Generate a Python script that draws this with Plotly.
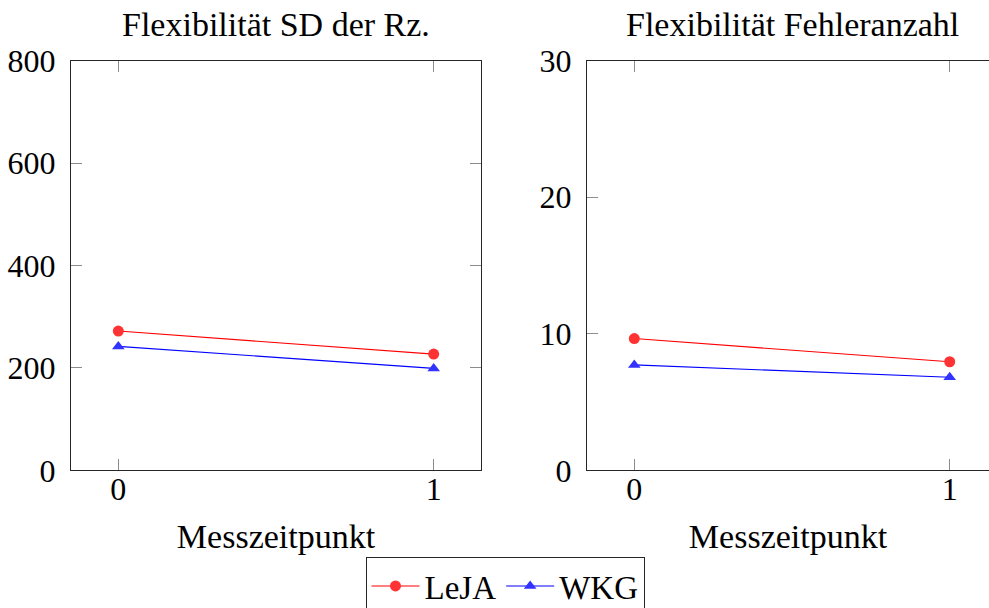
import plotly.graph_objects as go

# Measurement points and group means
zeitpunkte = [0, 1]
sd_leja = [272, 227]
sd_wkg = [242, 199]
fehler_leja = [9.65, 7.95]
fehler_wkg = [7.72, 6.82]

titel = ["Flexibilität SD der Rz.", "Flexibilität Fehleranzahl"]
x_titel = "Messzeitpunkt"
y1_ticks = [0, 200, 400, 600, 800]
y2_ticks = [0, 10, 20, 30]

W, H = 989, 608
FONT = "'Liberation Serif', 'Times New Roman', 'DejaVu Serif', serif"
FS_TICK = 32
FS_TEXT = 34
FS_LEGEND = 33
RED_LINE, RED_MARK = "#ff0000", "#ff3333"
BLUE_LINE, BLUE_MARK = "#0000ff", "#3333ff"
AXIS_COL = "#262626"
TICK_COL = "#8c8c8c"

# pixel layout of the two axes boxes
left_px = (71, 481)
right_px = (587, 997)
top_px, bottom_px = 60.7, 470.3
px_per_unit = (left_px[1] - left_px[0]) / 1.3

fig = go.Figure()

def add_pair(xa, ya, leja, wkg, legend):
    fig.add_trace(go.Scatter(
        x=zeitpunkte, y=leja, name="LeJA", mode="lines+markers",
        xaxis=xa, yaxis=ya, showlegend=legend,
        line=dict(color=RED_LINE, width=1.1),
        marker=dict(symbol="circle", size=11, color=RED_MARK, line=dict(width=0)),
    ))
    fig.add_trace(go.Scatter(
        x=zeitpunkte, y=wkg, name="WKG", mode="lines+markers",
        xaxis=xa, yaxis=ya, showlegend=legend,
        line=dict(color=BLUE_LINE, width=1.1),
        marker=dict(symbol="triangle-up", size=11, color=BLUE_MARK, line=dict(width=0)),
    ))

add_pair("x", "y", sd_leja, sd_wkg, True)
add_pair("x2", "y2", fehler_leja, fehler_wkg, False)

ydom = [1 - bottom_px / H, 1 - top_px / H]
# right box extends past the canvas edge; show only the visible part
right_end = -0.15 + (W - right_px[0]) / px_per_unit

common_x = dict(
    tickvals=zeitpunkte, ticks="inside", ticklen=11, tickcolor=TICK_COL, tickwidth=1,
    showline=True, linecolor=AXIS_COL, linewidth=1, mirror="ticks",
    showgrid=False, zeroline=False,
    tickfont=dict(family=FONT, size=FS_TICK, color="#000"),
    title=dict(text=x_titel, font=dict(family=FONT, size=FS_TEXT, color="#000"), standoff=18),
    ticklabelstandoff=-10,
)
common_y = dict(
    ticks="inside", ticklen=11, tickcolor=TICK_COL, tickwidth=1,
    showline=True, linecolor=AXIS_COL, linewidth=1,
    showgrid=False, zeroline=False,
    tickfont=dict(family=FONT, size=FS_TICK, color="#000"),
    ticklabelstandoff=8,
)

fig.update_layout(
    width=W, height=H,
    margin=dict(l=0, r=0, t=0, b=0, autoexpand=False),
    paper_bgcolor="white", plot_bgcolor="white",
    xaxis=dict(domain=[left_px[0] / W, left_px[1] / W], range=[-0.15, 1.15],
               anchor="y", **common_x),
    yaxis=dict(domain=ydom, range=[0, 800], tickvals=y1_ticks, anchor="x",
               mirror="ticks", **common_y),
    xaxis2=dict(domain=[right_px[0] / W, 1.0], range=[-0.15, right_end],
                anchor="y2", **common_x),
    yaxis2=dict(domain=ydom, range=[0, 30], tickvals=y2_ticks, anchor="x2",
                mirror=False, **common_y),
    legend=dict(
        orientation="h", x=505 / W, xanchor="center", y=1 - 557 / H, yanchor="top",
        bgcolor="white", bordercolor=AXIS_COL, borderwidth=1,
        font=dict(family=FONT, size=FS_LEGEND, color="#000"),
        itemwidth=48, tracegroupgap=0,
    ),
    showlegend=True,
)

for i, t in enumerate(titel):
    x0, x1 = (left_px, right_px)[i]
    fig.add_annotation(
        text=t, x=(x0 + x1) / 2 / W, y=1 - 24 / H, xref="paper", yref="paper",
        xanchor="center", yanchor="middle", showarrow=False,
        font=dict(family=FONT, size=FS_TEXT, color="#000"),
    )

fig.write_html("out.html")
